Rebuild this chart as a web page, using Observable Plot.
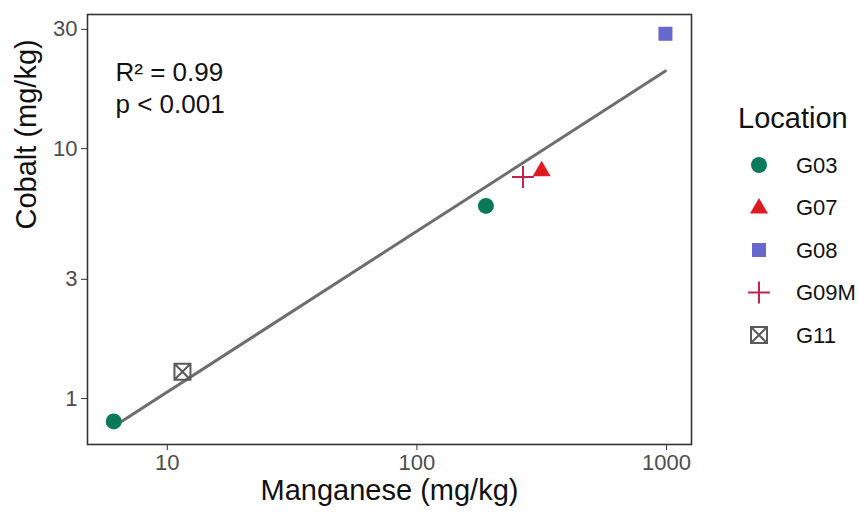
<!DOCTYPE html>
<html>
<head>
<meta charset="utf-8">
<script src="https://cdn.jsdelivr.net/npm/d3@7"></script>
<script src="https://cdn.jsdelivr.net/npm/@observablehq/plot@0.6"></script>
<style>
  html, body { margin: 0; padding: 0; background: #ffffff; }
  #chart { width: 859px; height: 515px; }
  svg { font-family: "Liberation Sans", Arial, Helvetica, sans-serif; }
</style>
</head>
<body>
<div id="chart"></div>
<script>
// ---- data ----
const locations = ["G03", "G03", "G07", "G08", "G09M", "G11"];
const manganese = [6.1, 189, 316, 990, 266, 11.5];   // mg/kg (x)
const cobalt    = [0.81, 5.9, 8.2, 28.8, 7.7, 1.28];  // mg/kg (y)
const legendLocations = ["G03", "G07", "G08", "G09M", "G11"];
const xTicks = [10, 100, 1000];
const yTicks = [1, 3, 10, 30];
const annotations = ["R² = 0.99", "p < 0.001"];
const xTitle = "Manganese (mg/kg)";
const yTitle = "Cobalt (mg/kg)";
const legendTitle = "Location";

// ---- symbols (ggplot shapes 16, 17, 15, 3, 7) ----
const symCircle = {draw(c, size) { const r = Math.sqrt(size / Math.PI); c.moveTo(r, 0); c.arc(0, 0, r, 0, 2 * Math.PI); }};
const symTriangle = {draw(c, size) { const s = Math.sqrt(size / Math.PI); c.moveTo(0, -s * 1.05); c.lineTo(s, s * 0.68); c.lineTo(-s, s * 0.68); c.closePath(); }};
const symSquare = {draw(c, size) { const s = Math.sqrt(size / Math.PI); c.rect(-s, -s, 2 * s, 2 * s); }};
const symPlus = {draw(c, size) { const s = Math.sqrt(size / Math.PI); c.moveTo(-s, 0); c.lineTo(s, 0); c.moveTo(0, -s); c.lineTo(0, s); }};
const symSqTimes = {draw(c, size) { const s = Math.sqrt(size / Math.PI); c.moveTo(-s, -s); c.lineTo(s, -s); c.lineTo(s, s); c.lineTo(-s, s); c.closePath(); c.moveTo(-s, -s); c.lineTo(s, s); c.moveTo(s, -s); c.lineTo(-s, s); }};

const styles = {
  G03:  {symbol: symCircle,   r: 8,   color: "#0a7a5a", filled: true},
  G07:  {symbol: symTriangle, r: 9,   color: "#df1a20", filled: true},
  G08:  {symbol: symSquare,   r: 7,   color: "#6668cc", filled: true},
  G09M: {symbol: symPlus,     r: 11,  color: "#c0244c", filled: false},
  G11:  {symbol: symSqTimes,  r: 8,   color: "#5a5a5a", filled: false}
};

const data = locations.map((loc, i) => ({loc, mn: manganese[i], co: cobalt[i]}));

// ---- least squares fit in log10 space ----
const lx = data.map(d => Math.log10(d.mn));
const ly = data.map(d => Math.log10(d.co));
const mx = d3.mean(lx), my = d3.mean(ly);
const slope = d3.sum(lx, (v, i) => (v - mx) * (ly[i] - my)) / d3.sum(lx, v => (v - mx) ** 2);
const intercept = my - slope * mx;
const xExt = d3.extent(manganese);
const fit = xExt.map(x => ({mn: x, co: Math.pow(10, intercept + slope * Math.log10(x))}));

const font = "Liberation Sans, Arial, Helvetica, sans-serif";

const pointMarks = legendLocations.map(loc => {
  const s = styles[loc];
  return Plot.dot(data.filter(d => d.loc === loc), {
    x: "mn", y: "co", symbol: s.symbol, r: s.r,
    fill: s.filled ? s.color : "none",
    stroke: s.filled ? "none" : s.color,
    strokeWidth: s.filled ? 0 : 2
  });
});

const plot = Plot.plot({
  width: 859,
  height: 515,
  marginLeft: 87,
  marginRight: 168,
  marginTop: 14,
  marginBottom: 71,
  style: {fontFamily: font, background: "#ffffff", overflow: "visible"},
  x: {type: "log", domain: [4.79, 1259], axis: null},
  y: {type: "log", domain: [0.655, 34.4], axis: null},
  marks: [
    Plot.line(fit, {x: "mn", y: "co", stroke: "#6e6e6e", strokeWidth: 3}),
    ...pointMarks,
    Plot.frame({stroke: "#333333", strokeWidth: 1.6}),
    Plot.axisX(xTicks, {tickSize: 6, tickPadding: 4, fontSize: 22, tickFormat: d3.format("d"), stroke: "#333333", fill: "#4d4d4d", label: null}),
    Plot.axisY(yTicks, {tickSize: 6, tickPadding: 4, fontSize: 22, tickFormat: d3.format("d"), stroke: "#333333", fill: "#4d4d4d", label: null}),
    Plot.text([annotations[0]], {frameAnchor: "top-left", dx: 28, dy: 48, textAnchor: "start", fontSize: 26, fill: "#111"}),
    Plot.text([annotations[1]], {frameAnchor: "top-left", dx: 28, dy: 80, textAnchor: "start", fontSize: 26, fill: "#111"}),
    Plot.text([xTitle], {frameAnchor: "bottom", dy: 55, fontSize: 29, fill: "#111"}),
    Plot.text([yTitle], {frameAnchor: "left", dx: -61, rotate: -90, fontSize: 29, fill: "#111"})
  ]
});

// ---- legend (drawn into the same svg) ----
const svg = d3.select(plot);
const lg = svg.append("g").attr("font-family", font).attr("text-anchor", "start");
lg.append("text").attr("x", 738).attr("y", 128).attr("font-size", 29).attr("fill", "#111").text(legendTitle);
legendLocations.forEach((loc, i) => {
  const s = styles[loc];
  const yy = 165 + i * 42.5;
  lg.append("path")
    .attr("transform", `translate(759,${yy})`)
    .attr("d", d3.symbol(s.symbol, Math.PI * s.r * s.r)())
    .attr("fill", s.filled ? s.color : "none")
    .attr("stroke", s.filled ? "none" : s.color)
    .attr("stroke-width", s.filled ? 0 : 2);
  lg.append("text").attr("x", 796).attr("y", yy).attr("dy", "0.35em")
    .attr("font-size", 22).attr("fill", "#111").text(loc);
});

document.getElementById("chart").appendChild(plot);
</script>
</body>
</html>
